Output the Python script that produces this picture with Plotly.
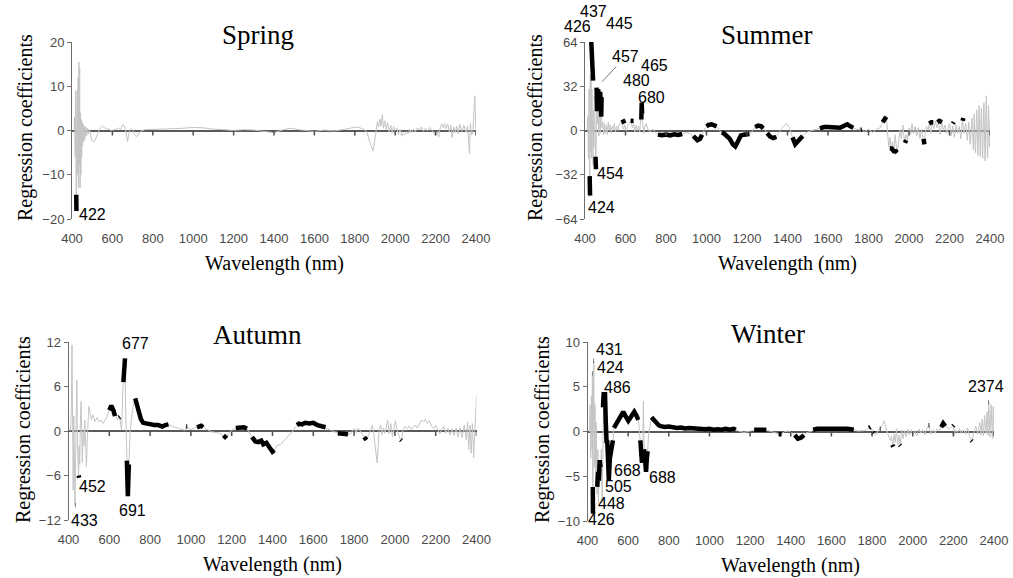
import plotly.graph_objects as go

# ---------------------------------------------------------------------------
# PLSR regression coefficients per season: (wavelength nm, coefficient)
# ---------------------------------------------------------------------------
spring_curve = [
    (410, 0), (413, 3), (416, -6), (418, 9), (420, -12), (422, -17), (424, 4), (426, 9),
    (428, -10), (430, 12), (432, -13), (434, 15.5), (436, -8), (438, 14), (440, -13),
    (442, 4), (444, -10), (446, 2.5), (448, -6), (450, 2), (452, -3.5), (455, 1.5),
    (458, -2.5), (461, 1), (464, -2), (468, 0.8), (472, -1.2), (476, 0.5), (480, -0.8),
    (486, 0.3), (492, -1.2), (498, -2.2), (505, -2.6), (512, -2.4), (520, -1.5),
    (530, -0.2), (540, 0.6), (550, 1.0), (560, 0.6), (570, 0.3), (580, 0.4), (590, 0.1),
    (600, -0.2), (610, 0.3), (620, 0.2), (630, 0.6), (640, 0.2), (650, 1.3), (658, 1.0),
    (665, 0.2), (670, -1.2), (675, -2.5), (680, -1.0), (690, 0.4), (700, 0.2), (710, -1.0),
    (720, -1.4), (730, -0.8), (740, -0.2), (760, 0.2), (800, 0.3), (850, 0.3), (900, 0.4),
    (950, 0.5), (1000, 0.7), (1050, 0.6), (1100, 0.3), (1150, 0.2), (1200, 0), (1250, 0.2),
    (1300, 0.1), (1350, -0.2), (1400, -0.5), (1440, 0.1), (1480, 0.5), (1520, 0.2),
    (1560, 0), (1600, -0.2), (1650, 0.1), (1700, -0.1), (1740, 0.2), (1780, 0.6),
    (1810, 0.8), (1840, 0.4), (1860, -0.3), (1870, -2.0), (1880, -3.2), (1890, -4.6),
    (1898, -2.5), (1905, 0.3), (1912, 2.0), (1918, 0.8), (1924, 2.6), (1930, 1.0),
    (1936, 3.6), (1942, 0.5), (1948, 2.2), (1955, 0.2), (1962, 1.8), (1970, -0.3),
    (1978, 1.2), (1985, -0.6), (1992, 0.9), (2000, -0.4), (2008, 0.6), (2016, -0.9),
    (2025, 0.3), (2032, -1.3), (2040, -0.6), (2048, -1.0), (2056, -0.2), (2064, -0.8),
    (2072, 0.3), (2080, -0.5), (2090, 0.4), (2100, -0.3), (2110, 0.6), (2120, 0.1),
    (2130, 0.8), (2140, -0.2), (2150, 0.5), (2160, -0.1), (2170, 0.7), (2180, 0.2),
    (2190, -0.4), (2200, -1.2), (2208, -0.2), (2215, -1.5), (2222, 0.5), (2230, 1.5),
    (2238, 0.6), (2245, 1.6), (2252, 0.4), (2260, 1.5), (2268, -0.3), (2275, 1.2),
    (2282, -1.6), (2290, 0.8), (2298, -0.5), (2305, 1.0), (2312, -0.8), (2320, 1.4),
    (2330, -0.2), (2340, 1.2), (2350, -0.4), (2358, 1.0), (2364, -2.5), (2368, -5.3),
    (2372, 1.6), (2378, -1.0), (2384, -0.8), (2390, 3.0), (2394, 7.8), (2397, 3.5),
    (2400, -1.0),
]

summer_curve = [
    (410, 0), (414, 10), (417, -20), (420, 30), (422, -26), (424, -48), (426, 40),
    (428, -15), (430, 36), (432, -20), (434, 30), (436, -10), (438, 20), (440, -25),
    (442, 15), (444, -12), (446, 25), (448, -8), (450, 18), (452, -15), (454, -26),
    (456, 10), (458, 28), (461, 5), (464, 20), (468, -4), (472, 15), (476, -2), (480, 26),
    (484, 2), (488, 6), (492, -3), (496, 5), (500, -2), (505, 4), (510, -3), (515, 6),
    (520, 0), (525, 4), (530, -2), (535, 3), (540, 1), (545, 5), (550, -1), (556, 3),
    (562, 0), (568, 4), (575, 6), (582, 5), (590, 1), (597, 4), (603, -1), (610, 3),
    (618, 5), (626, 7), (634, 2), (640, 5), (646, -1), (652, 4), (658, 0), (664, 3),
    (670, -1), (676, 8), (680, 18), (684, 6), (690, -2), (696, 3), (702, 5), (710, 1),
    (720, -1), (735, 1), (750, -2), (765, -3), (780, -3.5), (800, -3), (820, -3.5),
    (840, -2.8), (860, -3.2), (880, -2.5), (900, -1.5), (920, -2.5), (940, -5), (955, -7),
    (968, -6), (980, -2), (995, 2), (1010, 4), (1025, 4.5), (1040, 4), (1055, 2),
    (1070, -1), (1085, -2), (1100, -4), (1115, -6), (1130, -10), (1142, -11.5),
    (1155, -8), (1170, -3.5), (1185, -3), (1200, -3), (1215, -2.5), (1228, 0),
    (1240, 2.5), (1255, 3.5), (1270, 3), (1285, 1), (1300, -2), (1315, -4.5),
    (1330, -5.5), (1345, -4.5), (1360, -1), (1380, 3), (1395, 5), (1410, 2), (1425, -5),
    (1438, -10), (1450, -8), (1465, -5), (1480, -3), (1500, -1), (1520, 0), (1540, 0.5),
    (1560, 1.5), (1580, 2.5), (1600, 2.5), (1620, 2.5), (1640, 2.5), (1660, 2),
    (1680, 3.5), (1695, 4.5), (1710, 3), (1725, 2), (1740, 1), (1760, 0.5), (1780, -1),
    (1800, 1), (1820, -1.5), (1840, 1), (1858, 2), (1870, 6), (1880, 9), (1888, 10),
    (1895, -3), (1900, -12), (1906, -5), (1912, -14), (1918, -8), (1925, -15),
    (1932, -3), (1940, -16), (1948, -10), (1955, 0), (1962, -6), (1970, 4), (1978, -9),
    (1985, -3), (1992, -7), (2000, 2), (2008, -3), (2015, 5), (2022, -2), (2030, 3),
    (2038, -4), (2046, 2), (2054, -6), (2062, 1), (2070, -8), (2078, -4), (2086, 3),
    (2094, 0), (2100, 5), (2108, -2), (2115, 6), (2122, 1), (2130, 7), (2138, 2),
    (2146, 6), (2154, -3), (2162, 7), (2170, 0), (2178, 4), (2186, -2), (2194, 2),
    (2200, 5), (2208, -4), (2216, 3), (2224, -5), (2232, 4), (2240, -2), (2248, 3),
    (2256, -6), (2264, 8), (2272, -2), (2280, 5), (2288, -7), (2295, 6), (2302, -10),
    (2307, 4), (2311, 9), (2315, -6), (2318, -14), (2322, 12), (2325, 2), (2328, -16),
    (2331, -4), (2334, 15), (2337, 5), (2340, -18), (2343, -2), (2346, 18), (2349, 3),
    (2352, -19), (2355, 6), (2358, 16), (2361, -8), (2364, -20), (2367, 4), (2370, 20),
    (2373, -6), (2376, -22), (2379, 10), (2382, 25), (2385, -4), (2388, -20),
    (2391, 6), (2393, 18), (2395, 0), (2397, -12), (2400, 8),
]

autumn_curve = [
    (410, 0), (414, 3), (417, 11.6), (420, -2), (423, -8), (426, 2), (429, -6),
    (432, -10), (435, -3), (438, 4), (441, 6.9), (444, -2), (447, -5), (449, -6.1),
    (452, -2), (455, -4.5), (458, 1), (462, 4), (465, -1), (468, -4.3), (472, 0),
    (476, -2), (480, 1.5), (484, -3.5), (488, -4.8), (492, -1), (496, 1), (500, 3.3),
    (505, 2.5), (512, 1.5), (520, 2.2), (530, 1.3), (540, 1.8), (550, 1.2), (560, 1.5),
    (570, 1.0), (580, 1.5), (590, 2.0), (600, 2.8), (610, 3.4), (620, 2.8), (630, 2.0),
    (640, 1.5), (650, 1.9), (660, 0.2), (668, 6.6), (673, 9.0), (677, 9.8), (680, 3),
    (684, -2), (688, -5), (691, -8.8), (694, -6), (697, -4), (702, 0), (710, 2),
    (718, 3.5), (727, 4.4), (735, 3.6), (745, 2.4), (755, 1.6), (766, 1.1), (780, 1.0),
    (800, 0.9), (820, 0.8), (840, 0.8), (860, 0.6), (875, 0.8), (890, 0.9), (910, 0.6),
    (930, 0.4), (950, 0.2), (970, 0.1), (980, 0.6), (990, 0.3), (1000, 0.2), (1020, 0.4),
    (1040, 0.6), (1050, 0.7), (1060, 0.5), (1080, 0.2), (1100, -0.1), (1120, -0.2),
    (1140, -0.3), (1160, -0.6), (1175, -1.0), (1185, -0.4), (1200, 0.1), (1220, 0.4),
    (1240, 0.5), (1260, 0.5), (1275, 0.3), (1290, -0.3), (1300, -0.8), (1315, -1.4),
    (1330, -1.5), (1345, -1.3), (1355, -1.8), (1370, -1.6), (1385, -2.2), (1400, -2.8),
    (1410, -2.6), (1420, -2.0), (1440, -1.8), (1460, -1.2), (1480, -0.6), (1500, 0),
    (1515, 0.6), (1530, 1.0), (1545, 0.9), (1560, 1.1), (1580, 1.0), (1600, 1.1),
    (1620, 0.8), (1640, 0.6), (1660, 0.5), (1680, 0.2), (1700, -0.1), (1720, -0.3),
    (1740, -0.4), (1760, -0.5), (1780, -0.4), (1800, 0.3), (1810, -0.2), (1820, 0.4),
    (1830, 0.0), (1840, -0.3), (1850, -0.8), (1860, -1.2), (1870, -0.6), (1880, 0.2),
    (1890, 0.8), (1897, -0.5), (1902, -2.0), (1908, -3.4), (1913, -4.3), (1918, -2.0),
    (1923, 0.3), (1930, 0.8), (1937, -0.5), (1944, 0.4), (1950, -0.3), (1958, 0.5),
    (1965, 1.5), (1972, -0.4), (1980, 1.0), (1988, -0.8), (1995, 0.6), (2002, 1.4),
    (2010, 0.2), (2018, -0.6), (2025, -1.0), (2032, -1.3), (2040, 0.2), (2050, 0.6),
    (2060, 0.3), (2070, 0.7), (2080, 0.2), (2090, 0.5), (2100, 0.8), (2110, 0.4),
    (2120, 1.0), (2130, 1.5), (2140, 1.2), (2150, 1.6), (2160, 1.0), (2170, 1.4),
    (2180, 0.6), (2190, 0.3), (2200, 0.8), (2210, 0.2), (2220, -0.4), (2230, 0.2),
    (2240, 0.6), (2250, -0.3), (2260, 0.4), (2270, -0.5), (2280, 0.3), (2290, -0.6),
    (2300, 0.4), (2310, -0.8), (2320, 0.5), (2330, -0.9), (2340, 0.8), (2350, -1.2),
    (2356, 1.2), (2362, -2.5), (2368, 0.8), (2374, -3.0), (2380, 1.0), (2386, -3.6),
    (2392, 0.5), (2396, 2.5), (2400, 4.8),
]

winter_curve = [
    (410, 0), (413, 3), (416, -3), (419, 4), (422, -2), (424, 6.5), (426, -9.2),
    (428, -3), (431, 7.9), (434, -4), (437, 3), (440, -6), (443, 1), (446, -7),
    (448, -6), (451, -2), (454, -8), (457, -4), (460, -3.5), (464, -5.5), (468, -2),
    (472, -8), (476, 2.7), (480, 4.4), (484, 3.5), (486, 4.4), (490, 1), (494, -1.3),
    (497, -1), (500, -2), (505, -5.4), (510, -3), (515, -2.2), (520, -1.5), (525, -1),
    (530, 0.4), (540, 0.8), (550, 1.2), (560, 1.6), (570, 2.0), (576, 2.2), (585, 1.8),
    (595, 1.3), (601, 1.2), (610, 1.5), (620, 2.0), (630, 2.2), (640, 1.8), (650, 1.3),
    (655, 0.2), (660, -1), (664, -2), (668, -3.5), (672, -2), (675, 3.4), (678, -1),
    (682, -2.5), (686, -4), (688, -4.5), (692, -3), (696, -2.2), (700, -0.5), (708, 0.8),
    (715, 1.6), (722, 1.4), (730, 1.1), (740, 0.9), (750, 0.7), (760, 0.6), (780, 0.5),
    (800, 0.55), (820, 0.45), (840, 0.4), (860, 0.45), (880, 0.35), (900, 0.4),
    (920, 0.35), (940, 0.3), (960, 0.35), (980, 0.25), (1000, 0.3), (1020, 0.2),
    (1040, 0.25), (1060, 0.2), (1080, 0.3), (1100, 0.2), (1120, 0.3), (1130, 0.2),
    (1150, 0), (1170, -0.1), (1190, 0), (1210, 0.1), (1220, 0.2), (1240, 0.25),
    (1260, 0.2), (1280, 0.2), (1300, 0), (1320, -0.1), (1340, -0.3), (1355, -0.3),
    (1370, 0), (1390, 0.05), (1410, -0.2), (1420, -0.4), (1435, -0.8), (1450, -0.7),
    (1465, -0.4), (1480, -0.1), (1500, 0), (1510, 0.2), (1530, 0.3), (1560, 0.3),
    (1600, 0.35), (1640, 0.3), (1680, 0.3), (1710, 0.2), (1730, 0.05), (1760, 0.1),
    (1780, 0.3), (1790, 0.5), (1800, 0.2), (1806, -0.2), (1820, -0.4), (1830, 0.1),
    (1840, 0.3), (1850, 0.6), (1860, 1.2), (1866, 0.8), (1872, 0.1), (1880, -0.3),
    (1890, -1.0), (1896, -0.5), (1902, -1.6), (1908, -0.3), (1914, -1.2), (1920, 0.3),
    (1926, -1.5), (1932, -0.4), (1938, -1.6), (1946, 0.2), (1952, -0.8), (1960, 0.1),
    (1968, -0.6), (1976, 0.3), (1984, -0.4), (1992, 0.2), (2000, -0.3), (2010, 0.1),
    (2020, -0.5), (2030, 0.3), (2040, -0.2), (2050, 0.2), (2060, -0.4), (2070, 0.4),
    (2080, 0.7), (2090, -0.3), (2100, 0.2), (2110, -0.2), (2120, 0.3), (2130, 0.1),
    (2140, 0.5), (2150, 0.9), (2160, 0.6), (2170, 0.4), (2180, 0.3), (2190, 0.5),
    (2200, 0.7), (2205, -0.4), (2210, 0.2), (2220, -0.1), (2230, 0.3), (2240, -0.2),
    (2250, 0.2), (2260, -0.3), (2270, 0.4), (2280, -0.6), (2290, -1.1), (2300, -0.2),
    (2310, 0.6), (2320, -0.3), (2330, 1.0), (2336, -0.4), (2342, 1.4), (2348, -0.5),
    (2354, 1.8), (2360, -0.2), (2366, 2.2), (2370, -0.4), (2374, 3.3), (2380, -0.6),
    (2386, 3.0), (2392, -0.8), (2396, 2.8), (2400, 0),
]

# Significant (selected) wavelength stretches, drawn as heavy black segments
spring_sig = [
    [(421, -14.5), (422, -18.2)],
]

summer_sig = [
    [(423, -33), (424, -40), (425, -47)],
    [(431, 64), (434, 44), (437, 60), (440, 36)],
    [(452, -19), (454, -28)],
    [(457, 31), (460, 14), (465, 30), (470, 18), (475, 28), (480, 10), (482, 24)],
    [(585, 8), (595, 5)],
    [(625, 7), (640, 7)],
    [(678, 8), (680, 20), (682, 12)],
    [(760, -3), (780, -3.5), (800, -3), (820, -3.5), (840, -2.8), (860, -3.2), (880, -2.5)],
    [(935, -4), (955, -7), (968, -6), (978, -3)],
    [(1000, 3), (1010, 4), (1025, 4.5), (1040, 4), (1050, 3)],
    [(1075, -1.5), (1085, -2), (1100, -4), (1115, -6), (1130, -10), (1142, -11.5),
     (1155, -8), (1170, -3.5), (1185, -3), (1200, -3), (1212, -2.5)],
    [(1240, 2.5), (1255, 3.5), (1270, 3), (1280, 1.5)],
    [(1300, -2), (1315, -4.5), (1330, -5.5), (1345, -4.5)],
    [(1425, -5), (1438, -10), (1450, -8), (1465, -5), (1475, -4)],
    [(1560, 1.5), (1580, 2.5), (1600, 2.5), (1620, 2.5), (1640, 2.5), (1660, 2),
     (1680, 3.5), (1695, 4.5), (1710, 3), (1725, 2)],
    [(1762, 0.5), (1768, 0.8)],
    [(1870, 6), (1880, 9), (1888, 10)],
    [(1905, -13), (1915, -13), (1925, -15), (1935, -15), (1942, -16)],
    [(1980, -9), (1986, -7)],
    [(2072, -6), (2076, -10)],
    [(2100, 5), (2110, 6), (2120, 6)],
    [(2140, 6), (2150, 7), (2162, 6)],
    [(2217, 5), (2221, 6)],
    [(2265, 7), (2268, 9)],
]

autumn_sig = [
    [(432, -10), (434, -10)],
    [(450, -6), (452, -6.3)],
    [(600, 2.8), (610, 3.4), (620, 2.8), (628, 2.0)],
    [(647, 1.8), (652, 1.9)],
    [(669, 6.6), (673, 9.0), (677, 9.8)],
    [(686, -4), (688, -5.5), (691, -8.8), (694, -6), (696, -4.5)],
    [(727, 4.4), (735, 3.6), (745, 2.4), (755, 1.6), (766, 1.1), (780, 1.0), (800, 0.9),
     (820, 0.8), (840, 0.8), (860, 0.6), (875, 0.8), (890, 0.9)],
    [(977, 0.6), (982, 0.6)],
    [(1030, 0.5), (1040, 0.6), (1050, 0.7), (1060, 0.5)],
    [(1160, -0.6), (1175, -1.0)],
    [(1220, 0.4), (1240, 0.5), (1260, 0.5), (1275, 0.3)],
    [(1300, -0.8), (1315, -1.4), (1330, -1.5), (1345, -1.3), (1355, -1.8), (1370, -1.6),
     (1385, -2.2), (1400, -2.8), (1410, -2.6)],
    [(1520, 0.8), (1530, 1.0), (1545, 0.9), (1560, 1.1), (1580, 1.0), (1600, 1.1),
     (1620, 0.8), (1640, 0.6), (1660, 0.5)],
    [(1720, -0.3), (1740, -0.4), (1760, -0.5), (1770, -0.45)],
    [(1850, -0.8), (1860, -1.2)],
    [(2028, -1.2), (2032, -1.3)],
]

winter_sig = [
    [(430, 7.9), (432, 7.9)],
    [(423, 6.5), (425, 6.5)],
    [(426, -6.2), (427, -9.2)],
    [(448, -6.2), (452, -4.5), (456, -5.5), (460, -3.2), (464, -4)],
    [(476, 2.7), (480, 4.4), (484, 3.5), (486, 4.4), (490, 1), (494, -1.3)],
    [(497, -1), (500, -2), (505, -5.4), (510, -3), (515, -2.2), (520, -1.5), (525, -1)],
    [(530, 0.4), (540, 0.8), (550, 1.2), (560, 1.6), (570, 2.0), (576, 2.2), (585, 1.8),
     (595, 1.3), (601, 1.2), (610, 1.5), (620, 2.0), (630, 2.2), (640, 1.8), (650, 1.3)],
    [(660, -1), (664, -2), (668, -3.5)],
    [(678, -2), (682, -2.5), (686, -4), (688, -4.5), (692, -3), (696, -2.2)],
    [(715, 1.6), (722, 1.4), (730, 1.1), (740, 0.9), (750, 0.7), (760, 0.6), (780, 0.5),
     (800, 0.55), (820, 0.45), (840, 0.4), (860, 0.45), (880, 0.35), (900, 0.4),
     (920, 0.35), (940, 0.3), (960, 0.35), (980, 0.25), (1000, 0.3), (1020, 0.2),
     (1040, 0.25), (1060, 0.2), (1080, 0.3), (1100, 0.2), (1120, 0.3), (1130, 0.2)],
    [(1220, 0.2), (1240, 0.25), (1260, 0.2), (1280, 0.2)],
    [(1340, -0.3), (1355, -0.3)],
    [(1420, -0.4), (1435, -0.8), (1450, -0.7), (1465, -0.4)],
    [(1510, 0.2), (1530, 0.3), (1560, 0.3), (1600, 0.35), (1640, 0.3), (1680, 0.3), (1710, 0.2)],
    [(1785, 0.4), (1792, 0.5)],
    [(1803, -0.1), (1808, -0.2)],
    [(1838, 0.3), (1842, 0.3)],
    [(1900, -1.5), (1904, -1.7)],
    [(1936, -1.5), (1940, -1.6)],
    [(2078, 0.7), (2082, 0.7)],
    [(2140, 0.5), (2150, 0.9), (2160, 0.6)],
    [(2198, 0.6), (2202, 0.7)],
    [(2288, -1.0), (2292, -1.1)],
    [(2373, 3.3), (2375, 3.3)],
]

# Labelled peak wavelengths and the coefficient at that mark
spring_peaks = [(422, -18.2)]
summer_peaks = [(424, -47), (426, 64), (437, 64), (445, 58), (454, -28), (457, 31),
                (465, 30), (480, 10), (680, 20)]
autumn_peaks = [(677, 9.8), (452, -6.3), (691, -8.8), (433, -10)]
winter_peaks = [(431, 7.9), (424, 6.5), (486, 4.4), (668, -3.5), (688, -4.5),
                (505, -5.4), (448, -6.2), (426, -9.2), (2374, 3.3)]

x_ticks = [400, 600, 800, 1000, 1200, 1400, 1600, 1800, 2000, 2200, 2400]

# ---------------------------------------------------------------------------
# Figure styling / placement
# ---------------------------------------------------------------------------
W, H = 1013, 578
GREY = "#c4c4c4"
AXIS = "#6e6e6e"
TICKTXT = "#4a4a4a"
SANS = "Liberation Sans"
SERIF = "Liberation Serif"

# pixel offsets (dx right, dy up) from each labelled mark to its label centre
spring_label_shift = [(16, -3)]
summer_label_shift = [(12, -12), (-13, 16), (1, 31), (25, 27), (15, -4), (29, 31),
                      (56, 24), (35, 36), (10, 5)]
autumn_label_shift = [(10, 15), (13, -9), (5, -14), (9, -15)]
winter_label_shift = [(16, 11), (18, 6), (13, 5), (-14, -8), (16, -6), (10, -7),
                      (14, -17), (9, -6), (-3, 15)]
leader_labels = {("Summer", 457)}

panels = [
    dict(name="Spring", curve=spring_curve, sig=spring_sig, peaks=spring_peaks,
         shifts=spring_label_shift, lim=20, step=10, box=(72, 476, 42, 219),
         title=(258, 35), ytitle_x=25, ytitle_y=128),
    dict(name="Summer", curve=summer_curve, sig=summer_sig, peaks=summer_peaks,
         shifts=summer_label_shift, lim=64, step=32, box=(585, 990, 42, 219),
         title=(767, 35), ytitle_x=535, ytitle_y=128),
    dict(name="Autumn", curve=autumn_curve, sig=autumn_sig, peaks=autumn_peaks,
         shifts=autumn_label_shift, lim=12, step=6, box=(68.5, 476.5, 342, 520),
         title=(257, 335), ytitle_x=23, ytitle_y=430),
    dict(name="Winter", curve=winter_curve, sig=winter_sig, peaks=winter_peaks,
         shifts=winter_label_shift, lim=10, step=5, box=(587.5, 994, 342, 521),
         title=(768, 334), ytitle_x=542, ytitle_y=430),
]

fig = go.Figure()
annotations = []
shapes = []
layout_axes = {}

for i, p in enumerate(panels, start=1):
    sfx = "" if i == 1 else str(i)
    x0, x1, yt, yb = p["box"]
    xdom = [x0 / W, x1 / W]
    ydom = [1 - yb / H, 1 - yt / H]
    plot_h = yb - yt

    wl = [w for w, _ in p["curve"]]
    coef = [c for _, c in p["curve"]]
    fig.add_trace(go.Scatter(
        x=wl, y=coef, mode="lines", line=dict(color=GREY, width=1),
        xaxis="x" + sfx, yaxis="y" + sfx, showlegend=False, hoverinfo="skip"))

    sx, sy = [], []
    for seg in p["sig"]:
        for w, c in seg:
            sx.append(w)
            sy.append(c)
        sx.append(None)
        sy.append(None)
    fig.add_trace(go.Scatter(
        x=sx, y=sy, mode="lines", line=dict(color="black", width=4.5),
        connectgaps=False, xaxis="x" + sfx, yaxis="y" + sfx,
        showlegend=False, hoverinfo="skip"))

    lim, step = p["lim"], p["step"]
    layout_axes["xaxis" + sfx] = dict(
        domain=xdom, range=[400, 2400], anchor="y" + sfx, tickvals=x_ticks,
        ticks="", showline=False, showgrid=False, zeroline=False, automargin=False,
        tickfont=dict(family=SANS, size=13, color=TICKTXT), ticklabelstandoff=10)
    layout_axes["yaxis" + sfx] = dict(
        domain=ydom, range=[-lim, lim], anchor="x" + sfx,
        tickvals=[-lim, -step, 0, step, lim], ticks="outside", ticklen=4,
        tickcolor=AXIS, showline=True, linecolor=AXIS, linewidth=1,
        showgrid=False, zeroline=True, zerolinecolor="#5a5a5a", zerolinewidth=1.5,
        automargin=False, tickfont=dict(family=SANS, size=13, color=TICKTXT))

    # small tick marks hanging below the zero line
    for t in x_ticks[1:]:
        shapes.append(dict(
            type="line", xref="x" + sfx, yref="y" + sfx + " domain",
            x0=t, x1=t, y0=0.5, y1=0.5 - 5 / plot_h,
            line=dict(color="#505050", width=1.5), layer="above"))

    # panel title
    tx, ty = p["title"]
    annotations.append(dict(
        text=p["name"], x=tx / W, y=1 - ty / H, xref="paper", yref="paper",
        showarrow=False, xanchor="center", yanchor="middle",
        font=dict(family=SERIF, size=27, color="black")))
    # axis titles
    annotations.append(dict(
        text="Wavelength (nm)", x=(x0 + x1) / 2 / W, y=1 - (yb + 44) / H,
        xref="paper", yref="paper", showarrow=False, xanchor="center",
        yanchor="middle", font=dict(family=SERIF, size=20, color="black")))
    annotations.append(dict(
        text="Regression coefficients", x=p["ytitle_x"] / W, y=1 - p["ytitle_y"] / H,
        xref="paper", yref="paper", showarrow=False, textangle=-90,
        xanchor="center", yanchor="middle",
        font=dict(family=SERIF, size=20, color="black")))

    # wavelength labels at selected marks
    for (w, c), (dx, dy) in zip(p["peaks"], p["shifts"]):
        ann = dict(text=str(w), x=w, y=c, xref="x" + sfx, yref="y" + sfx,
                   font=dict(family=SANS, size=16, color="black"))
        if (p["name"], w) in leader_labels:
            ann.update(showarrow=True, ax=dx, ay=-dy, arrowhead=0,
                       arrowwidth=0.8, arrowcolor="#555555", standoff=8)
        else:
            ann.update(showarrow=False, xshift=dx, yshift=dy,
                       xanchor="center", yanchor="middle")
        annotations.append(ann)

fig.update_layout(
    width=W, height=H, margin=dict(l=0, r=0, t=0, b=0, pad=0, autoexpand=False),
    paper_bgcolor="white", plot_bgcolor="white",
    annotations=annotations, shapes=shapes, showlegend=False, **layout_axes)

fig.write_html("out.html")
